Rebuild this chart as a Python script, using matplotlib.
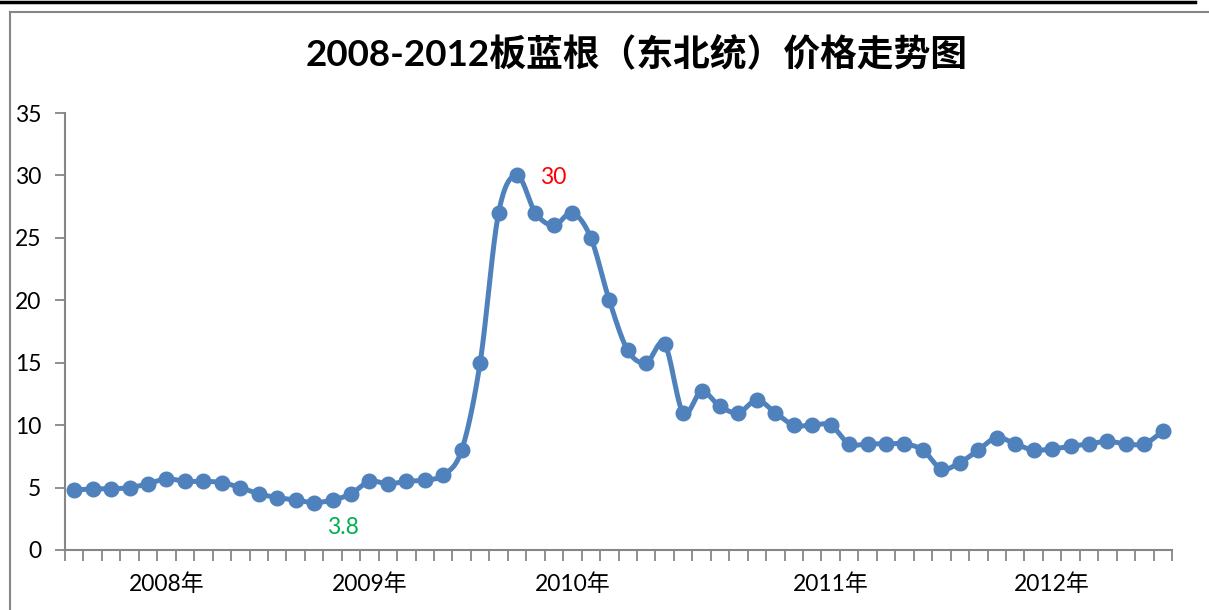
import numpy as np
import matplotlib
matplotlib.use("Agg")
import matplotlib.pyplot as plt
from matplotlib.lines import Line2D

# monthly price, Jan 2008 - Dec 2012
prices = [4.8, 4.9, 4.9, 5.0, 5.3, 5.7, 5.5, 5.5, 5.4, 5.0, 4.5, 4.2,
          4.0, 3.8, 4.0, 4.5, 5.5, 5.3, 5.5, 5.6, 6.0, 8.0, 15, 27,
          30, 27, 26, 27, 25, 20, 16, 15, 16.5, 11, 12.7, 11.5,
          11, 12, 11, 10, 10, 10, 8.5, 8.5, 8.5, 8.5, 8.0, 6.5,
          7.0, 8.0, 9.0, 8.5, 8.0, 8.1, 8.3, 8.5, 8.7, 8.5, 8.5, 9.5]
year_labels = ["2008年", "2009年", "2010年", "2011年", "2012年"]
year_label_idx = [5, 16, 27, 41, 53]
max_idx, min_idx = 24, 13

title = "2008-2012板蓝根（东北统）价格走势图"
blue = "#4F81BD"
grey = "#868686"
fam = ["Lato", "Noto Sans CJK SC", "DejaVu Sans"]

x = np.arange(len(prices))
y = np.array(prices, dtype=float)

# smoothed line (Catmull-Rom through the points, like Excel's smoothed line)
def smooth(xs, ys, n=20):
    px = np.concatenate([[2 * xs[0] - xs[1]], xs, [2 * xs[-1] - xs[-2]]])
    py = np.concatenate([[2 * ys[0] - ys[1]], ys, [2 * ys[-1] - ys[-2]]])
    outx, outy = [], []
    t = np.linspace(0, 1, n, endpoint=False)
    for i in range(1, len(px) - 2):
        for arr, out in ((px, outx), (py, outy)):
            p0, p1, p2, p3 = arr[i - 1], arr[i], arr[i + 1], arr[i + 2]
            out.extend(0.5 * ((2 * p1) + (-p0 + p2) * t
                              + (2 * p0 - 5 * p1 + 4 * p2 - p3) * t ** 2
                              + (-p0 + 3 * p1 - 3 * p2 + p3) * t ** 3))
    outx.append(xs[-1])
    outy.append(ys[-1])
    return np.array(outx), np.array(outy)

sx, sy = smooth(x.astype(float), y)

fig = plt.figure(figsize=(12.09, 6.10), dpi=100)
ax = fig.add_axes([65 / 1209, 60 / 610, (1172 - 65) / 1209, (550 - 113) / 610])

ax.plot(sx, sy, color=blue, lw=3.6, solid_capstyle="round", zorder=2)
ax.plot(x, y, "o", color=blue, ms=10.5, zorder=3)

ax.set_xlim(-0.5, len(prices) - 0.5)
ax.set_ylim(0, 35)
ax.set_yticks(np.arange(0, 36, 5))
ax.set_xticks(np.arange(-0.5, len(prices), 1))
ax.set_xticklabels([])
ax.tick_params(axis="x", direction="out", length=8, width=1.3, color=grey)
ax.tick_params(axis="y", direction="out", length=7, width=1.3, color=grey,
               labelsize=16.5, pad=10)
for lab in ax.get_yticklabels():
    lab.set_family(fam)

for s in ["top", "right"]:
    ax.spines[s].set_visible(False)
for s in ["left", "bottom"]:
    ax.spines[s].set_color(grey)
    ax.spines[s].set_linewidth(1.5)

for lab, i in zip(year_labels, year_label_idx):
    ax.annotate(lab, (i, 0), xytext=(0, -34), textcoords="offset pixels",
                ha="center", va="center", fontsize=16.5, family=fam)

ax.annotate(f"{prices[max_idx]:g}", (max_idx, prices[max_idx]), xytext=(36, -2),
            textcoords="offset pixels", ha="center", va="center",
            fontsize=16.5, color="red", family=fam)
ax.annotate(f"{prices[min_idx]:g}", (min_idx, prices[min_idx]), xytext=(29, -25),
            textcoords="offset pixels", ha="center", va="center",
            fontsize=16.5, color="#00B050", family=fam)

fig.text(637 / 1209, 1 - 53 / 610, title, ha="center", va="center",
         fontsize=26.5, fontweight="bold", family=fam)

# chart frame: black rule on top, grey border
fig.add_artist(Line2D([0, 1195 / 1209], [1 - 1.5 / 610] * 2, color="black", lw=2.5))
fig.add_artist(Line2D([9.5 / 1209, 1], [1 - 11.5 / 610] * 2, color=grey, lw=1.5))
fig.add_artist(Line2D([9.5 / 1209] * 2, [0, 1 - 11.5 / 610], color=grey, lw=1.5))

plt.savefig("out.png", dpi=100)
